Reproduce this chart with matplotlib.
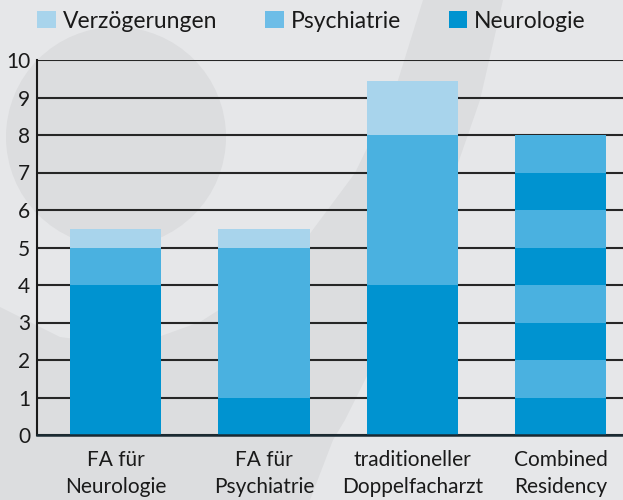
import numpy as np
import matplotlib
matplotlib.use('Agg')
import matplotlib.pyplot as plt
from matplotlib.patches import Polygon, Circle, Patch

plt.rcParams['font.family'] = ['Lato', 'DejaVu Sans']

# data (years of training)
categories = ["FA für\nNeurologie", "FA für\nPsychiatrie",
              "traditioneller\nDoppelfacharzt", "Combined\nResidency"]
neuro = [4, 1, 4, 4]
psych = [1, 4, 4, 4]
verz = [0.5, 0.5, 1.45, 0]
alternating = [False, False, False, True]  # combined residency: one year each, alternating
yticks = list(range(0, 11))

c_neuro = '#0093d0'
c_psych = '#4ab1e0'
c_verz = '#a8d4ec'
bg = '#e6e7e9'
bg_dark = '#dcdddf'

W, H = 623, 500
fig = plt.figure(figsize=(6.23, 5), dpi=100, facecolor=bg)

# decorative background, drawn in pixel coords on a hidden axes behind the chart
bgax = fig.add_axes([0, 0, 1, 1], zorder=-1)
bgax.set_xlim(0, W)
bgax.set_ylim(H, 0)
bgax.axis('off')
swoosh = [(423, 0), (395, 90), (355, 173), (300, 247), (250, 290), (200, 322),
          (150, 340), (120, 345), (60, 337), (0, 307), (0, 500), (310, 500),
          (333, 440), (345, 420), (400, 310), (447, 195), (480, 100), (503, 0)]
bgax.add_patch(Polygon(swoosh, closed=True, facecolor=bg_dark, edgecolor='none'))
bgax.add_patch(Circle((116, 137), 110, facecolor=bg_dark, edgecolor='none'))

ax = fig.add_axes([37 / W, 0.13, 1 - 37 / W, 0.75], zorder=1)
ax.patch.set_alpha(0)

x = np.arange(len(categories))
width = 0.614
for i in range(len(categories)):
    if alternating[i]:
        bottom = 0
        total = neuro[i] + psych[i]
        k = 0
        while bottom < total:
            col = c_neuro if k % 2 == 0 else c_psych
            ax.bar(x[i], 1, width, bottom=bottom, color=col, zorder=2)
            bottom += 1
            k += 1
    else:
        ax.bar(x[i], neuro[i], width, color=c_neuro, zorder=2)
        ax.bar(x[i], psych[i], width, bottom=neuro[i], color=c_psych, zorder=2)
        ax.bar(x[i], verz[i], width, bottom=neuro[i] + psych[i], color=c_verz, zorder=2)

ax.set_xlim(-0.53, 3.42)
ax.set_ylim(0, 10)
ax.set_yticks(yticks)
ax.set_xticks(x)
ax.set_xticklabels(categories, fontsize=15, linespacing=1.4, color='#1a1a1a')
ax.tick_params(axis='y', length=0, pad=5, labelsize=15, labelcolor='#1a1a1a')
ax.tick_params(axis='x', length=0, pad=11)
ax.yaxis.grid(True, color='#262626', linewidth=1.5, zorder=1)
ax.set_axisbelow(True)

for s in ['top', 'right']:
    ax.spines[s].set_visible(False)
ax.spines['left'].set_color('#1a1a1a')
ax.spines['left'].set_linewidth(1.5)
ax.spines['bottom'].set_color('#1a2a33')
ax.spines['bottom'].set_linewidth(1.8)
ax.spines['bottom'].set_zorder(3)

handles = [Patch(facecolor=c_verz, label='Verzögerungen'),
           Patch(facecolor='#6dbde7', label='Psychiatrie'),
           Patch(facecolor=c_neuro, label='Neurologie')]
fig.legend(handles=handles, loc='center', bbox_to_anchor=(0.5, 1 - 21 / H), ncol=3,
           frameon=False, fontsize=16.5, handlelength=0.8, handleheight=0.8,
           handletextpad=0.3, columnspacing=2.1, labelcolor='#1a1a1a')

fig.savefig('out.png', dpi=100, facecolor=bg)
